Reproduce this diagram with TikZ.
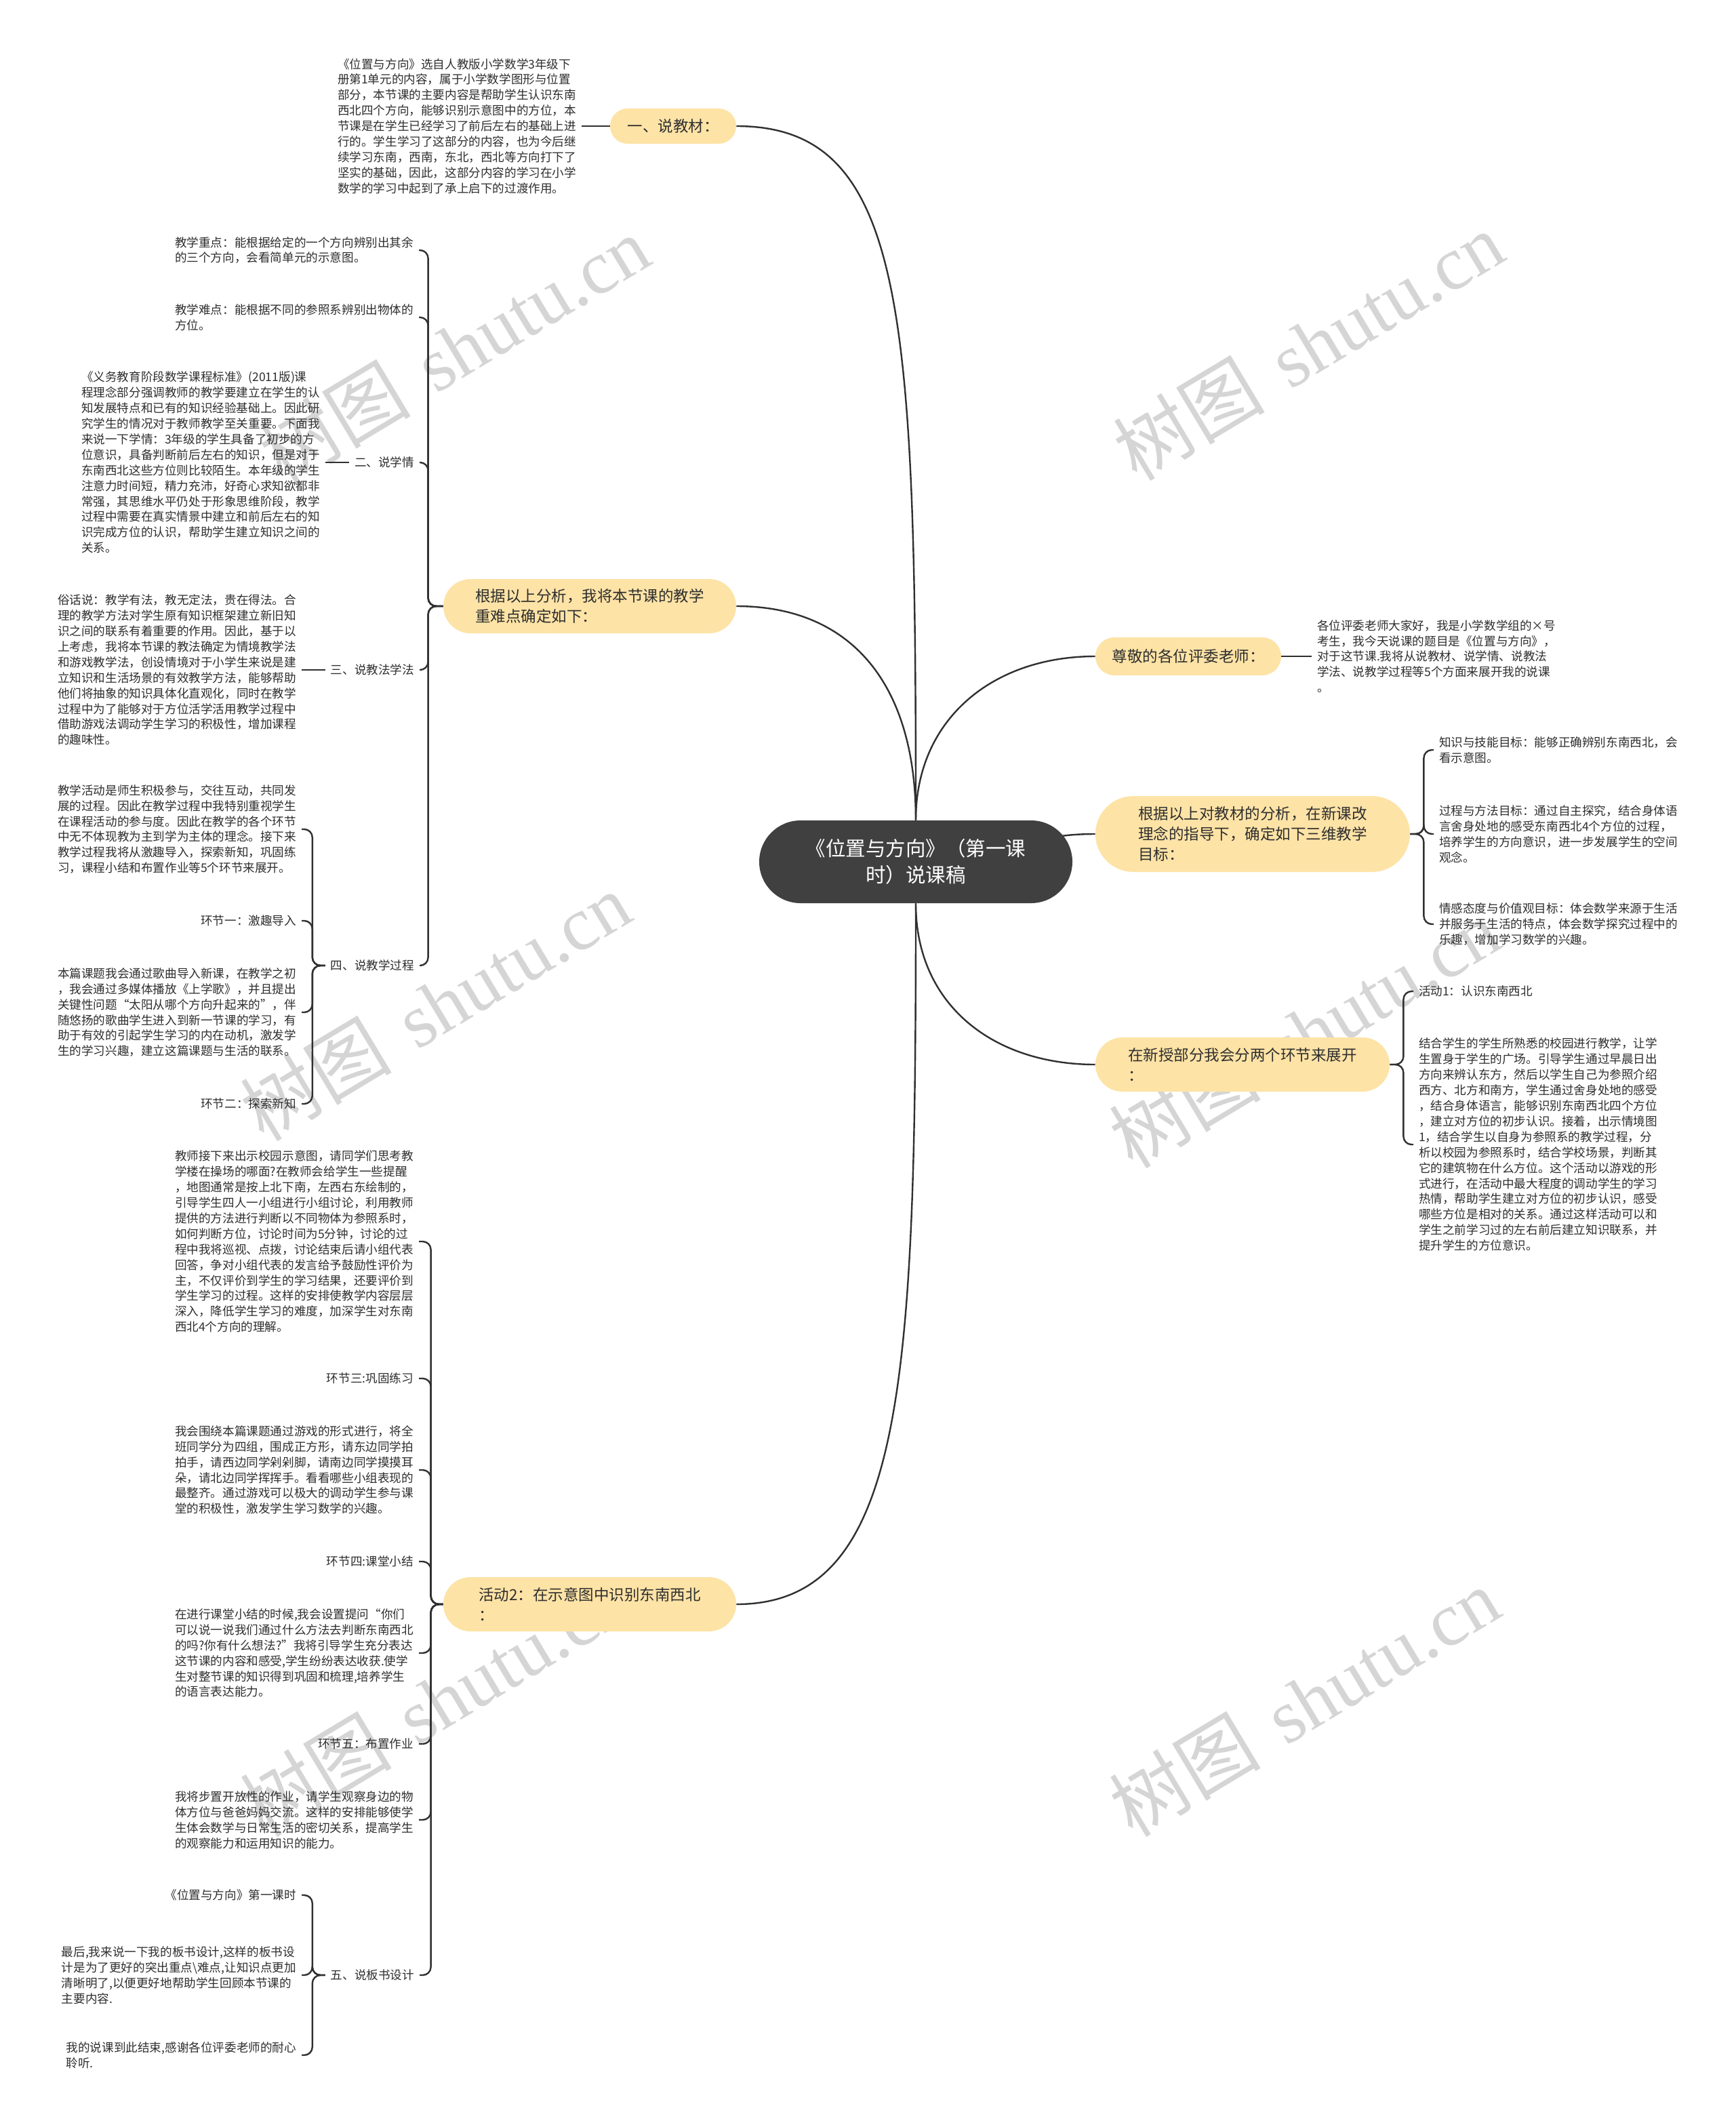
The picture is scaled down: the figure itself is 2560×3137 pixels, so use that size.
\documentclass[tikz,border=0pt]{standalone}
\usepackage{fontspec}
\setmainfont{Noto Sans CJK SC}
\newfontfamily\wmlatin{Liberation Serif}
\definecolor{topicfill}{HTML}{FDE3A6}
\definecolor{rootfill}{HTML}{404040}
\definecolor{linec}{HTML}{303030}
\definecolor{textc}{HTML}{2E2E2E}
\definecolor{wmc}{HTML}{D5D5D5}
\pgfdeclarelayer{wmlayer}
\pgfdeclarelayer{linelayer}
\pgfsetlayers{wmlayer,linelayer,main}
\tikzset{
  conn/.style={draw=linec, line width=1.2pt},
  brk/.style={conn, rounded corners=6pt},
  plain/.style={font=\fontsize{8.8pt}{11.45pt}\selectfont, text=textc, align=left, inner sep=0pt, outer xsep=4pt, outer ysep=0pt},
  plainr/.style={plain, align=right},
  topic/.style={fill=topicfill, text=textc, font=\fontsize{11.25pt}{15pt}\selectfont, align=left, inner sep=0pt},
  rootnode/.style={fill=rootfill, text=white, font=\fontsize{14.75pt}{19.5pt}\selectfont, align=center, inner sep=0pt, minimum width=231pt, minimum height=61pt, rounded corners=30.5pt},
  wmark/.style={text=wmc, font=\fontsize{56pt}{56pt}\selectfont, rotate=31, inner sep=0pt},
}
\begin{document}
\begin{tikzpicture}[x=0.5pt,y=-0.5pt]
\begin{pgfonlayer}{wmlayer}
\fill[white] (0,0) rectangle (2560,3137);
\node[wmark] (wm1) at (670,516) {树图\hspace{0.35em}{\wmlatin shutu.cn}};
\node[wmark] (wm2) at (1930,510) {树图\hspace{0.35em}{\wmlatin shutu.cn}};
\node[wmark] (wm3) at (642,1484) {树图\hspace{0.35em}{\wmlatin shutu.cn}};
\node[wmark] (wm4) at (1924,1524) {树图\hspace{0.35em}{\wmlatin shutu.cn}};
\node[wmark] (wm5) at (642,2510) {树图\hspace{0.35em}{\wmlatin shutu.cn}};
\node[wmark] (wm6) at (1924,2510) {树图\hspace{0.35em}{\wmlatin shutu.cn}};
\end{pgfonlayer}
\useasboundingbox (0,0) rectangle (2560,3137);

% root and main topics
\node[rootnode] (root) at (1351,1271) {《位置与方向》（第一课\\时）说课稿};
\node[topic, minimum width=93pt, minimum height=26pt, rounded corners=13pt] (n1) at (993,186) {一、说教材：};
\node[topic, minimum width=216pt, minimum height=40pt, rounded corners=20pt] (n2) at (870,894) {根据以上分析，我将本节课的教学\\重难点确定如下：};
\node[topic, minimum width=216pt, minimum height=40pt, rounded corners=20pt] (n3) at (870,2366) {活动2：在示意图中识别东南西北\\：};
\node[topic, minimum width=137pt, minimum height=28pt, rounded corners=14pt] (r1) at (1753,968) {尊敬的各位评委老师：};
\node[topic, minimum width=232pt, minimum height=56pt, rounded corners=28pt] (r2) at (1848,1230) {根据以上对教材的分析，在新课改\\理念的指导下，确定如下三维教学\\目标：};
\node[topic, minimum width=217pt, minimum height=40pt, rounded corners=20pt] (r3) at (1833,1570) {在新授部分我会分两个环节来展开\\：};

% 一、说教材
\node[plain, anchor=east] (t1) at (858,186) {《位置与方向》选自人教版小学数学3年级下\\册第1单元的内容，属于小学数学图形与位置\\部分，本节课的主要内容是帮助学生认识东南\\西北四个方向，能够识别示意图中的方位，本\\节课是在学生已经学习了前后左右的基础上进\\行的。学生学习了这部分的内容，也为今后继\\续学习东南，西南，东北，西北等方向打下了\\坚实的基础，因此，这部分内容的学习在小学\\数学的学习中起到了承上启下的过渡作用。};

% children of n2
\node[plain, anchor=east] (zd) at (618,369) {教学重点：能根据给定的一个方向辨别出其余\\的三个方向，会看简单元的示意图。};
\node[plain, anchor=east] (nd) at (618,468) {教学难点：能根据不同的参照系辨别出物体的\\方位。};
\node[plainr, anchor=east] (xq) at (619,682) {二、说学情};
\node[plain, anchor=east] (xqt) at (480,682) {《义务教育阶段数学课程标准》(2011版)课\\程理念部分强调教师的教学要建立在学生的认\\知发展特点和已有的知识经验基础上。因此研\\究学生的情况对于教师教学至关重要。下面我\\来说一下学情：3年级的学生具备了初步的方\\位意识，具备判断前后左右的知识，但是对于\\东南西北这些方位则比较陌生。本年级的学生\\注意力时间短，精力充沛，好奇心求知欲都非\\常强，其思维水平仍处于形象思维阶段，教学\\过程中需要在真实情景中建立和前后左右的知\\识完成方位的认识，帮助学生建立知识之间的\\关系。};
\node[plainr, anchor=east] (jf) at (619,988) {三、说教法学法};
\node[plain, anchor=east] (jft) at (445,988) {俗话说：教学有法，教无定法，贵在得法。合\\理的教学方法对学生原有知识框架建立新旧知\\识之间的联系有着重要的作用。因此，基于以\\上考虑，我将本节课的教法确定为情境教学法\\和游戏教学法，创设情境对于小学生来说是建\\立知识和生活场景的有效教学方法，能够帮助\\他们将抽象的知识具体化直观化，同时在教学\\过程中为了能够对于方位活学活用教学过程中\\借助游戏法调动学生学习的积极性，增加课程\\的趣味性。};
\node[plainr, anchor=east] (gc) at (619,1424) {四、说教学过程};
\node[plain, anchor=east] (gct1) at (445,1223) {教学活动是师生积极参与，交往互动，共同发\\展的过程。因此在教学过程中我特别重视学生\\在课程活动的参与度。因此在教学的各个环节\\中无不体现教为主到学为主体的理念。接下来\\教学过程我将从激趣导入，探索新知，巩固练\\习，课程小结和布置作业等5个环节来展开。};
\node[plainr, anchor=east] (hj1) at (445,1358) {环节一：激趣导入};
\node[plain, anchor=east] (gct2) at (445,1493) {本篇课题我会通过歌曲导入新课，在教学之初\\，我会通过多媒体播放《上学歌》，并且提出\\关键性问题“太阳从哪个方向升起来的”，伴\\随悠扬的歌曲学生进入到新一节课的学习，有\\助于有效的引起学生学习的内在动机，激发学\\生的学习兴趣，建立这篇课题与生活的联系。};
\node[plainr, anchor=east] (hj2) at (445,1628) {环节二：探索新知};

% children of n3
\node[plain, anchor=east] (jsz) at (618,1831) {教师接下来出示校园示意图，请同学们思考教\\学楼在操场的哪面?在教师会给学生一些提醒\\，地图通常是按上北下南，左西右东绘制的，\\引导学生四人一小组进行小组讨论，利用教师\\提供的方法进行判断以不同物体为参照系时，\\如何判断方位，讨论时间为5分钟，讨论的过\\程中我将巡视、点拨，讨论结束后请小组代表\\回答，争对小组代表的发言给予鼓励性评价为\\主，不仅评价到学生的学习结果，还要评价到\\学生学习的过程。这样的安排使教学内容层层\\深入，降低学生学习的难度，加深学生对东南\\西北4个方向的理解。};
\node[plainr, anchor=east] (hj3) at (618,2033) {环节三:巩固练习};
\node[plain, anchor=east] (wht) at (618,2168) {我会围绕本篇课题通过游戏的形式进行，将全\\班同学分为四组，围成正方形，请东边同学拍\\拍手，请西边同学剁剁脚，请南边同学摸摸耳\\朵，请北边同学挥挥手。看看哪些小组表现的\\最整齐。通过游戏可以极大的调动学生参与课\\堂的积极性，激发学生学习数学的兴趣。};
\node[plainr, anchor=east] (hj4) at (618,2303) {环节四:课堂小结};
\node[plain, anchor=east] (zjt) at (618,2438) {在进行课堂小结的时候,我会设置提问“你们\\可以说一说我们通过什么方法去判断东南西北\\的吗?你有什么想法?”我将引导学生充分表达\\这节课的内容和感受,学生纷纷表达收获.使学\\生对整节课的知识得到巩固和梳理,培养学生\\的语言表达能力。};
\node[plainr, anchor=east] (hj5) at (618,2572) {环节五：布置作业};
\node[plain, anchor=east] (zyt) at (618,2684) {我将步置开放性的作业，请学生观察身边的物\\体方位与爸爸妈妈交流。这样的安排能够使学\\生体会数学与日常生活的密切关系，提高学生\\的观察能力和运用知识的能力。};
\node[plainr, anchor=east] (bs) at (619,2913) {五、说板书设计};
\node[plainr, anchor=east] (bst1) at (445,2795) {《位置与方向》第一课时};
\node[plain, anchor=east] (bst2) at (445,2913) {最后,我来说一下我的板书设计,这样的板书设\\计是为了更好的突出重点\textbackslash 难点,让知识点更加\\清晰明了,以便更好地帮助学生回顾本节课的\\主要内容.};
\node[plain, anchor=east] (bst3) at (445,3031) {我的说课到此结束,感谢各位评委老师的耐心\\聆听.};

% right side
\node[plain, anchor=west] (rt1) at (1935,968) {各位评委老师大家好，我是小学数学组的×号\\考生，我今天说课的题目是《位置与方向》，\\对于这节课.我将从说教材、说学情、说教法\\学法、说教学过程等5个方面来展开我的说课\\。};
\node[plain, anchor=west] (mb1) at (2115,1106) {知识与技能目标：能够正确辨别东南西北，会\\看示意图。};
\node[plain, anchor=west] (mb2) at (2115,1230) {过程与方法目标：通过自主探究，结合身体语\\言舍身处地的感受东南西北4个方位的过程，\\培养学生的方向意识，进一步发展学生的空间\\观念。};
\node[plain, anchor=west] (mb3) at (2115,1363) {情感态度与价值观目标：体会数学来源于生活\\并服务于生活的特点，体会数学探究过程中的\\乐趣，增加学习数学的兴趣。};
\node[plain, anchor=west] (hd1) at (2085,1462) {活动1：认识东南西北};
\node[plain, anchor=west] (hd1t) at (2085,1688) {结合学生的学生所熟悉的校园进行教学，让学\\生置身于学生的广场。引导学生通过早晨日出\\方向来辨认东方，然后以学生自己为参照介绍\\西方、北方和南方，学生通过舍身处地的感受\\，结合身体语言，能够识别东南西北四个方位\\，建立对方位的初步认识。接着，出示情境图\\1，结合学生以自身为参照系的教学过程，分\\析以校园为参照系时，结合学校场景，判断其\\它的建筑物在什么方位。这个活动以游戏的形\\式进行，在活动中最大程度的调动学生的学习\\热情，帮助学生建立对方位的初步认识，感受\\哪些方位是相对的关系。通过这样活动可以和\\学生之前学习过的左右前后建立知识联系，并\\提升学生的方位意识。};

\begin{pgfonlayer}{linelayer}
% root connectors
\draw[conn] (root.north) .. controls +(0,-750) and +(250,0) .. (n1.east);
\draw[conn] (root.north) .. controls +(0,-200) and +(170,0) .. (n2.east);
\draw[conn] (root.north) .. controls +(0,-150) and +(-150,0) .. (r1.west);
\draw[conn] (root.center) .. controls +(160,0) and +(-120,0) .. (r2.west);
\draw[conn] (root.south) .. controls +(0,150) and +(-150,0) .. (r3.west);
\draw[conn] (root.south) .. controls +(0,700) and +(250,0) .. (n3.east);
% single children
\draw[conn] (n1.west) -- (t1.east);
\draw[conn] (xq.west) -- (xqt.east);
\draw[conn] (jf.west) -- (jft.east);
\draw[conn] (r1.east) -- (rt1.west);
% brackets of n2
\foreach \c in {zd,nd,xq,jf,gc} \draw[brk] (n2.west) -- ++(-22,0) |- (\c.east);
\foreach \c in {gct1,hj1,gct2,hj2} \draw[brk] (gc.west) -- ++(-19,0) |- (\c.east);
% brackets of n3
\foreach \c in {jsz,hj3,wht,hj4,zjt,hj5,zyt,bs} \draw[brk] (n3.west) -- ++(-18,0) |- (\c.east);
\foreach \c in {bst1,bst2,bst3} \draw[brk] (bs.west) -- ++(-19,0) |- (\c.east);
% right brackets
\foreach \c in {mb1,mb2,mb3} \draw[brk] (r2.east) -- ++(20,0) |- (\c.west);
\foreach \c in {hd1,hd1t} \draw[brk] (r3.east) -- ++(20,0) |- (\c.west);
\end{pgfonlayer}
\end{tikzpicture}
\end{document}
